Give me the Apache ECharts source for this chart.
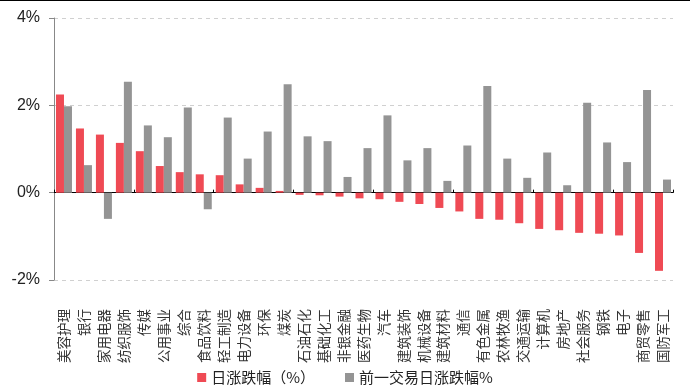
<!DOCTYPE html>
<html><head><meta charset="utf-8">
<script src="https://cdn.jsdelivr.net/npm/echarts@6/dist/echarts.min.js"></script>
<style>html,body{margin:0;padding:0;background:#fff}#c{width:690px;height:390px}</style>
</head><body><div id="c"></div>
<script>
const categories = ['美容护理','银行','家用电器','纺织服饰','传媒','公用事业','综合','食品饮料','轻工制造','电力设备','环保','煤炭','石油石化','基础化工','非银金融','医药生物','汽车','建筑装饰','机械设备','建筑材料','通信','有色金属','农林牧渔','交通运输','计算机','房地产','社会服务','钢铁','电子','商贸零售','国防军工'];
const dayChange = [2.25,1.47,1.33,1.14,0.95,0.61,0.47,0.42,0.40,0.19,0.11,0.04,-0.05,-0.06,-0.09,-0.13,-0.15,-0.21,-0.26,-0.35,-0.43,-0.60,-0.62,-0.70,-0.83,-0.86,-0.92,-0.94,-0.98,-1.38,-1.79];
const prevChange = [1.98,0.63,-0.60,2.54,1.54,1.27,1.95,-0.38,1.72,0.78,1.40,2.48,1.29,1.18,0.36,1.02,1.77,0.74,1.02,0.27,1.08,2.44,0.78,0.34,0.92,0.17,2.06,1.15,0.70,2.35,0.30];
const yTicks = [-2, 0, 2, 4];
const seriesNames = ['日涨跌幅（%）','前一交易日涨跌幅%'];

const chart = echarts.init(document.getElementById('c'));
chart.setOption({
  animation: false,
  graphic: [{type:'rect', shape:{x:0,y:0,width:690,height:1}, style:{fill:'#000'}}],
  grid: {left: 54, right: 17, top: 18, bottom: 110},
  legend: {
    bottom: 0, left: 'center', itemWidth: 9, itemHeight: 9, itemGap: 30,
    icon: 'rect',
    textStyle: {fontSize: 15, color: '#222', fontFamily: 'Noto Sans CJK SC'},
    data: seriesNames
  },
  xAxis: [{
    type: 'category', data: categories, position: 'bottom',
    axisLine: {show: false, onZero: false}, axisTick: {show: false},
    axisLabel: {
      interval: 0, margin: 29, fontSize: 13.5, rotate: 90, color: '#333',
      fontFamily: 'Noto Sans CJK SC'
    }
  }, {
    type: 'category', data: categories, position: 'top',
    axisLine: {show: true, onZero: true, lineStyle: {color: '#000', width: 1}},
    axisTick: {show: true, length: 3, inside: false, lineStyle: {color: '#000'}},
    axisLabel: {show: false}
  }],
  yAxis: {
    type: 'value', min: -2, max: 4, interval: 2,
    axisLine: {show: true, lineStyle: {color: '#888'}},
    axisTick: {show: true, length: 5, lineStyle: {color: '#888'}},
    axisLabel: {
      formatter: v => yTicks.includes(v) ? v + '%' : '', fontSize: 16, color: '#222', margin: 14,
      fontFamily: 'Liberation Sans'
    },
    splitLine: {show: true, lineStyle: {color: '#d0d0d0', type: [4, 4]}}
  },
  series: [{
    name: seriesNames[0], type: 'bar', data: dayChange, barWidth: 8, barGap: '0%',
    itemStyle: {color: '#ef4a54'}
  }, {
    name: seriesNames[1], type: 'bar', data: prevChange, barWidth: 8, barGap: '0%',
    itemStyle: {color: '#949494'}
  }]
});
</script></body></html>
